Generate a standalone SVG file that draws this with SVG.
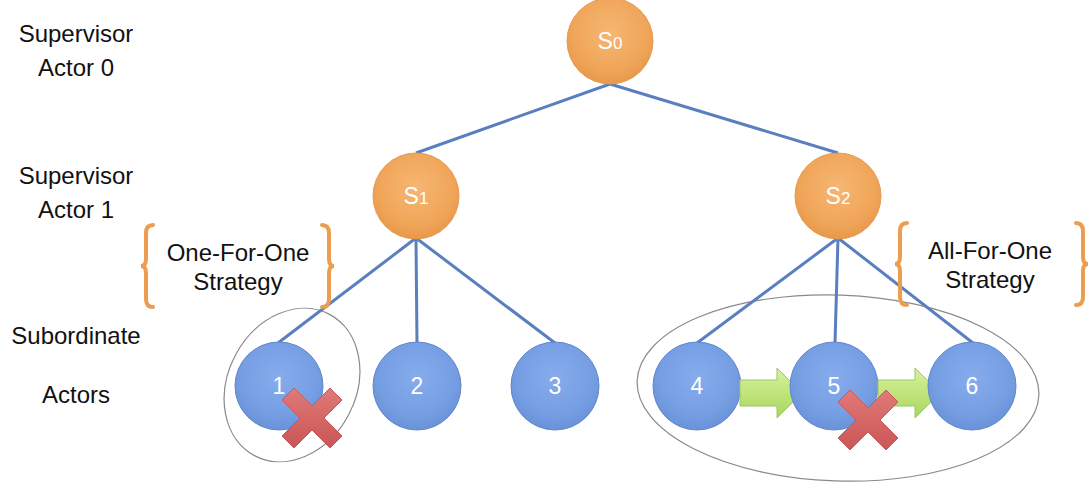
<svg xmlns="http://www.w3.org/2000/svg" width="1088" height="490" viewBox="0 0 1088 490">
<defs>
<radialGradient id="gO" cx="50%" cy="40%" r="60%">
<stop offset="0" stop-color="#f6b673"/>
<stop offset="0.7" stop-color="#f0a65a"/>
<stop offset="1" stop-color="#e8994a"/>
</radialGradient>
<radialGradient id="gB" cx="50%" cy="40%" r="60%">
<stop offset="0" stop-color="#86acec"/>
<stop offset="0.7" stop-color="#769ee3"/>
<stop offset="1" stop-color="#6a92d8"/>
</radialGradient>
<linearGradient id="gG" x1="0" y1="0" x2="0" y2="1">
<stop offset="0" stop-color="#d8f29a"/>
<stop offset="1" stop-color="#a9d65e"/>
</linearGradient>
<linearGradient id="gR" x1="0" y1="0" x2="0" y2="1">
<stop offset="0" stop-color="#e07a78"/>
<stop offset="1" stop-color="#c95656"/>
</linearGradient>
<path id="xmark" d="M-30,-18 L-18,-30 L0,-12 L18,-30 L30,-18 L12,0 L30,18 L18,30 L0,12 L-18,30 L-30,18 L-12,0 Z"/>
</defs>
<style>
.lbl{font-family:"Liberation Sans",Arial,sans-serif;font-size:24px;fill:#111;text-anchor:middle}
.sup{fill:url(#gO);stroke:#e59a4f;stroke-width:1}
.sub{fill:url(#gB);stroke:#5f86cc;stroke-width:1}
.nt{font-family:"Liberation Sans",Arial,sans-serif;font-size:23px;fill:#fff;text-anchor:middle}
.edge{stroke:#5a7fc0;stroke-width:3;fill:none}
.brace{stroke:#ec9d4f;stroke-width:4;fill:none;stroke-linecap:round}
.grp{fill:none;stroke:#8a8a8a;stroke-width:1.2}
.arrow{fill:url(#gG);stroke:#9cc56a;stroke-width:1}
.x{fill:url(#gR);stroke:#c65a5a;stroke-width:1}
</style>
<rect width="1088" height="490" fill="#fff"/>

<g id="labels">
<text class="lbl" x="76" y="42">Supervisor</text>
<text class="lbl" x="76" y="76">Actor 0</text>
<text class="lbl" x="76" y="184">Supervisor</text>
<text class="lbl" x="76" y="218">Actor 1</text>
<text class="lbl" x="76" y="344">Subordinate</text>
<text class="lbl" x="76" y="403">Actors</text>
</g>

<g id="groups">
<ellipse class="grp" cx="292" cy="385" rx="64" ry="80" transform="rotate(28 292 385)"/>
<ellipse class="grp" cx="838" cy="388" rx="201" ry="93" transform="rotate(2 838 388)"/>
</g>

<g id="connectors">
<line class="edge" x1="610" y1="84" x2="416" y2="153"/>
<line class="edge" x1="610" y1="84" x2="838" y2="153"/>
<line class="edge" x1="416" y1="238" x2="278" y2="343"/>
<line class="edge" x1="416" y1="238" x2="417" y2="343"/>
<line class="edge" x1="416" y1="238" x2="555" y2="343"/>
<line class="edge" x1="838" y1="238" x2="697" y2="343"/>
<line class="edge" x1="838" y1="238" x2="835" y2="343"/>
<line class="edge" x1="838" y1="238" x2="973" y2="343"/>
</g>

<g id="strategy-one">
<path class="brace" d="M153,225 Q146,225 146,233 L146,259 Q146,266 141,266 Q146,266 146,273 L146,299 Q146,307 153,307"/>
<path class="brace" d="M322,225 Q329,225 329,233 L329,259 Q329,266 334,266 Q329,266 329,273 L329,299 Q329,307 322,307"/>
<text class="lbl" x="238" y="261">One-For-One</text>
<text class="lbl" x="238" y="290">Strategy</text>
</g>

<g id="strategy-all">
<path class="brace" d="M907,223 Q900,223 900,231 L900,257 Q900,264 895,264 Q900,264 900,271 L900,297 Q900,305 907,305"/>
<path class="brace" d="M1076,223 Q1083,223 1083,231 L1083,257 Q1083,264 1088,264 Q1083,264 1083,271 L1083,297 Q1083,305 1076,305"/>
<text class="lbl" x="990" y="259">All-For-One</text>
<text class="lbl" x="990" y="288">Strategy</text>
</g>

<g id="S0"><circle class="sup" cx="610" cy="41" r="43"/><text class="nt" x="610" y="49">S<tspan font-size="17">0</tspan></text></g>
<g id="S1"><circle class="sup" cx="416" cy="196" r="43"/><text class="nt" x="416" y="204">S<tspan font-size="17">1</tspan></text></g>
<g id="S2"><circle class="sup" cx="838" cy="196" r="43"/><text class="nt" x="838" y="204">S<tspan font-size="17">2</tspan></text></g>

<g id="A1"><circle class="sub" cx="279" cy="386" r="44"/><text class="nt" x="279" y="394">1</text></g>
<g id="A2"><circle class="sub" cx="417" cy="386" r="44"/><text class="nt" x="417" y="394">2</text></g>
<g id="A3"><circle class="sub" cx="555" cy="386" r="44"/><text class="nt" x="555" y="394">3</text></g>
<g id="A4"><circle class="sub" cx="697" cy="386" r="44"/><text class="nt" x="697" y="394">4</text></g>

<g id="arrow45"><path class="arrow" d="M740,380 L777,380 L777,368 L802,393 L777,418 L777,406 L740,406 Z"/></g>

<g id="A5"><circle class="sub" cx="834" cy="386" r="44"/><text class="nt" x="834" y="394">5</text></g>

<g id="arrow56"><path class="arrow" d="M878,380 L915,380 L915,368 L940,393 L915,418 L915,406 L878,406 Z"/></g>

<g id="A6"><circle class="sub" cx="972" cy="386" r="44"/><text class="nt" x="972" y="394">6</text></g>

<g id="fail1"><use href="#xmark" class="x" transform="translate(312,418)"/></g>
<g id="fail5"><use href="#xmark" class="x" transform="translate(868,420)"/></g>
</svg>
